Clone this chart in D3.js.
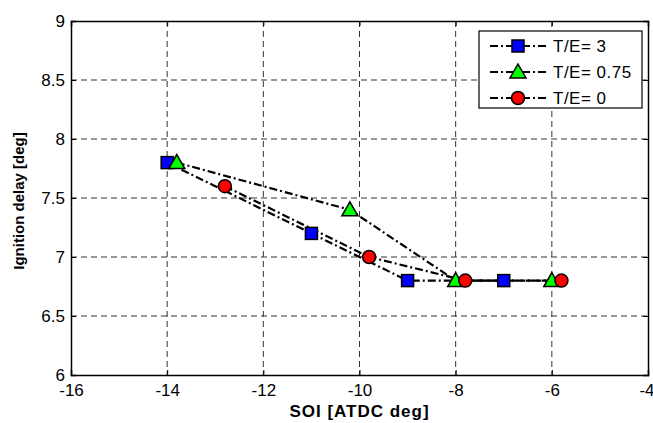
<!DOCTYPE html>
<html>
<head>
<meta charset="utf-8">
<script src="https://cdn.jsdelivr.net/npm/d3@7"></script>
<style>
  body { margin: 0; background: #fff; }
  text { font-family: Arial, "Liberation Sans", sans-serif; }
</style>
</head>
<body>
<div id="chart"></div>
<script>
// data
const xTicks = [-16, -14, -12, -10, -8, -6, -4];
const yTicks = [6, 6.5, 7, 7.5, 8, 8.5, 9];
const seriesNames = ["T/E= 3", "T/E= 0.75", "T/E= 0"];
const soiTE3 = [-14, -11, -9, -7];
const delayTE3 = [7.8, 7.2, 6.8, 6.8];
const soiTE075 = [-13.8, -10.2, -8, -6];
const delayTE075 = [7.8, 7.4, 6.8, 6.8];
const soiTE0 = [-12.8, -9.8, -7.8, -5.8];
const delayTE0 = [7.6, 7.0, 6.8, 6.8];

const series = [
    {name: seriesNames[0], sym: "square", fill: "#0000ff", xs: soiTE3, ys: delayTE3},
    {name: seriesNames[1], sym: "triangle", fill: "#00ff00", xs: soiTE075, ys: delayTE075},
    {name: seriesNames[2], sym: "circle", fill: "#ff0000", xs: soiTE0, ys: delayTE0}
];

const W = 653, H = 423;
const margin = {top: 21, right: 5, bottom: 48, left: 71};
const width = W - margin.left - margin.right;
const height = H - margin.top - margin.bottom;

const svg = d3.select("#chart").append("svg")
    .attr("width", W).attr("height", H);
const g = svg.append("g")
    .attr("transform", "translate(" + margin.left + "," + margin.top + ")");

const x = d3.scaleLinear().domain([-16, -4]).range([0, width]);
const y = d3.scaleLinear().domain([6, 9]).range([height, 0]);

// grid
g.append("g").selectAll("line").data(xTicks.slice(1, -1)).enter().append("line")
    .attr("x1", d => x(d)).attr("x2", d => x(d))
    .attr("y1", 0).attr("y2", height)
    .attr("stroke", "#333").attr("stroke-width", 1).attr("stroke-dasharray", "6,4");
g.append("g").selectAll("line").data(yTicks.slice(1, -1)).enter().append("line")
    .attr("y1", d => y(d)).attr("y2", d => y(d))
    .attr("x1", 0).attr("x2", width)
    .attr("stroke", "#333").attr("stroke-width", 1).attr("stroke-dasharray", "6,4");

// axes (ticks inward, box around)
const fmt = d => String(d); // plain hyphen minus like the original
const xAxis = g.append("g").attr("transform", "translate(0," + height + ")")
    .call(d3.axisBottom(x).tickValues(xTicks).tickSize(-5).tickPadding(9).tickFormat(fmt));
const xTop = g.append("g")
    .call(d3.axisTop(x).tickValues(xTicks).tickSize(-5).tickFormat(""));
const yAxis = g.append("g")
    .call(d3.axisLeft(y).tickValues(yTicks).tickSize(-5).tickPadding(6).tickFormat(fmt));
const yRight = g.append("g").attr("transform", "translate(" + width + ",0)")
    .call(d3.axisRight(y).tickValues(yTicks).tickSize(-5).tickFormat(""));

[xAxis, xTop, yAxis, yRight].forEach(a => {
    a.select(".domain").attr("stroke", "#000").attr("stroke-width", 1.5);
    a.selectAll(".tick line").attr("stroke", "#000");
    a.selectAll("text").attr("font-size", 17).attr("fill", "#000")
        .style("font-family", "Arial, 'Liberation Sans', sans-serif");
});
yAxis.selectAll("text").attr("dy", "0.3em");
// last x label sits on the window edge
xAxis.selectAll(".tick text").filter(d => d === -4).attr("text-anchor", "end").attr("dx", 6);

// axis titles
svg.append("text")
    .attr("x", margin.left + width / 2).attr("y", 417)
    .attr("text-anchor", "middle").attr("font-size", 17).attr("font-weight", "bold")
    .attr("letter-spacing", 1)
    .text("SOI [ATDC deg]");
svg.append("text")
    .attr("transform", "translate(24,201) rotate(-90)")
    .attr("text-anchor", "middle").attr("font-size", 15).attr("font-weight", "bold")
    .text("Ignition delay [deg]");

// marker helper
function marker(sel, sym, fill) {
    if (sym === "square") {
        sel.append("rect").attr("x", -6).attr("y", -6).attr("width", 12).attr("height", 12)
            .attr("fill", fill).attr("stroke", "#000").attr("stroke-width", 1.5);
    } else if (sym === "triangle") {
        sel.append("path").attr("d", "M0,-8L8,6L-8,6Z")
            .attr("fill", fill).attr("stroke", "#000").attr("stroke-width", 1.5);
    } else {
        sel.append("circle").attr("r", 6.5)
            .attr("fill", fill).attr("stroke", "#000").attr("stroke-width", 1.5);
    }
}

const line = d3.line().x(d => x(d[0])).y(d => y(d[1]));

series.forEach(s => {
    const pts = s.xs.map((v, i) => [v, s.ys[i]]);
    g.append("path").datum(pts).attr("d", line)
        .attr("fill", "none").attr("stroke", "#000").attr("stroke-width", 2.2)
        .attr("stroke-dasharray", "8,3,2,3");
});
series.forEach(s => {
    const pts = s.xs.map((v, i) => [v, s.ys[i]]);
    g.append("g").selectAll("g").data(pts).enter().append("g")
        .attr("transform", d => "translate(" + x(d[0]) + "," + y(d[1]) + ")")
        .each(function () { marker(d3.select(this), s.sym, s.fill); });
});

// legend
const leg = svg.append("g").attr("transform", "translate(479,31)");
leg.append("rect").attr("width", 163).attr("height", 77)
    .attr("fill", "#fff").attr("stroke", "#000").attr("stroke-width", 1.2);
series.forEach((s, i) => {
    const row = leg.append("g").attr("transform", "translate(0," + (15 + i * 26) + ")");
    row.append("line").attr("x1", 11).attr("x2", 68).attr("y1", 0).attr("y2", 0)
        .attr("stroke", "#000").attr("stroke-width", 2.2).attr("stroke-dasharray", "8,3,2,3");
    const m = row.append("g").attr("transform", "translate(39,0)");
    marker(m, s.sym, s.fill);
    row.append("text").attr("x", 74).attr("y", 0).attr("dy", "0.35em")
        .attr("font-size", 17).attr("letter-spacing", 0.5).text(s.name);
});
</script>
</body>
</html>
